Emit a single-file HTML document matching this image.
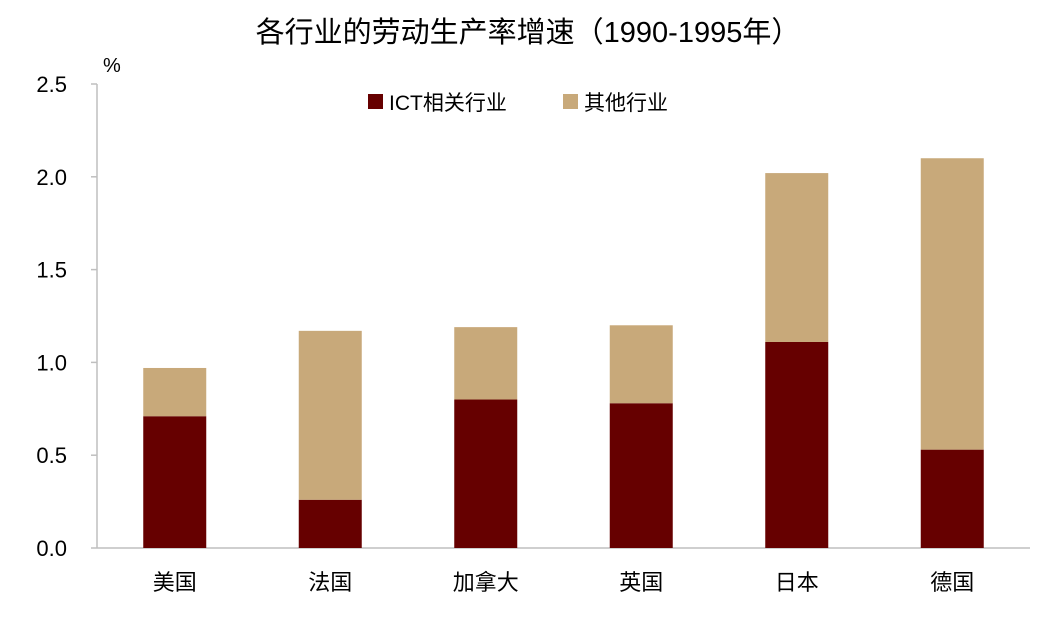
<!DOCTYPE html>
<html><head><meta charset="utf-8"><style>
body{margin:0;background:#fff;}
svg text{font-family:"Liberation Sans","Noto Sans CJK SC",sans-serif;fill:#000;}
</style></head><body>
<svg id="chart" width="1056" height="616" viewBox="0 0 1056 616">
<text x="528" y="42" font-size="29" text-anchor="middle">各行业的劳动生产率增速（1990-1995年）</text>
<text x="103" y="72" font-size="20">%</text>
<g>
<rect x="368" y="94" width="15" height="15" fill="#660000"/>
<text x="389" y="110" font-size="21">ICT相关行业</text>
<rect x="563" y="94" width="15" height="15" fill="#C8A97A"/>
<text x="584" y="110" font-size="21">其他行业</text>
</g>
<g id="axes"></g>
<g id="bars"></g>
</svg>
<script>
const categories=["美国","法国","加拿大","英国","日本","德国"];
const ictValues=[0.71,0.26,0.80,0.78,1.11,0.53];
const otherValues=[0.26,0.91,0.39,0.42,0.91,1.57];
const yTicks=["0.0","0.5","1.0","1.5","2.0","2.5"];
const NS="http://www.w3.org/2000/svg";
const y0=548,yTop=84,yMax=2.5,xL=97,xR=1030;
const y=v=>y0-(v/yMax)*(y0-yTop);
const band=(xR-xL)/categories.length;
const x=i=>xL+band*(i+0.5);
const bw=63;
function mk(tag,attrs,parent){const e=document.createElementNS(NS,tag);for(const k in attrs)e.setAttribute(k,attrs[k]);parent.appendChild(e);return e;}
const axes=document.getElementById('axes'),bars=document.getElementById('bars');
let a=mk('line',{x1:xL,y1:yTop,x2:xL,y2:y0,stroke:'#bfbfbf','stroke-width':1.5},axes);


let b=mk('line',{x1:xL,y1:y0,x2:xR,y2:y0,stroke:'#bfbfbf','stroke-width':1.5},axes);


yTicks.forEach(t=>{const v=parseFloat(t);
const tk=mk('line',{x1:xL-6,y1:y(v),x2:xL,y2:y(v),stroke:'#bfbfbf','stroke-width':1.5},axes);


const tx=mk('text',{x:67,y:y(v)+8,'font-size':22,'text-anchor':'end'},axes);tx.textContent=t;


});
categories.forEach((c,i)=>{
const r1=mk('rect',{x:x(i)-bw/2,y:y(ictValues[i]),width:bw,height:y0-y(ictValues[i]),fill:'#660000'},bars);


const tot=ictValues[i]+otherValues[i];
const r2=mk('rect',{x:x(i)-bw/2,y:y(tot),width:bw,height:y(ictValues[i])-y(tot),fill:'#C8A97A'},bars);


const tx=mk('text',{x:x(i),y:590,'font-size':22,'text-anchor':'middle'},axes);tx.textContent=c;


});
</script>
</body></html>
